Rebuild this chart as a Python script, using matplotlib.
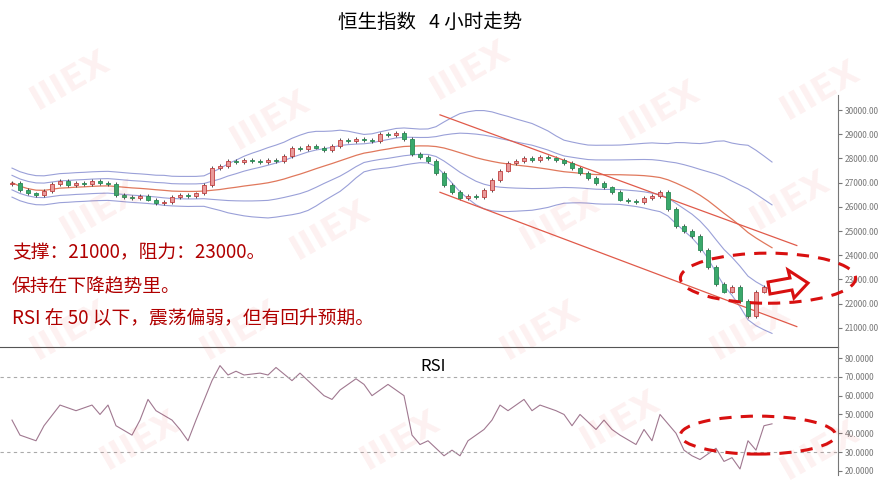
import numpy as np
import pandas as pd
import matplotlib
matplotlib.use("Agg")
import matplotlib.pyplot as plt
from matplotlib.patches import Ellipse, Polygon, Rectangle

plt.rcParams['font.family'] = ['Noto Sans CJK SC', 'DejaVu Sans']

# 4-hour closes
closes = [27000, 26700, 26550, 26500, 26650, 26950, 27050, 26900, 27000, 26950,
          27050, 27000, 26950, 26500, 26400, 26350, 26450, 26300, 26150, 26200,
          26400, 26500, 26450, 26550, 26900, 27600, 27700, 27900, 27850, 27950,
          27900, 27850, 27950, 27900, 28100, 28450, 28400, 28500, 28450, 28350,
          28500, 28750, 28700, 28800, 28750, 28700, 29000, 28950, 29050, 28800,
          28200, 28050, 27900, 27400, 26900, 26600, 26350, 26450, 26400, 26700,
          27100, 27500, 27800, 27900, 28000, 27950, 28050, 28000, 27950, 27800,
          27600, 27400, 27200, 27000, 26800, 26600, 26300, 26250, 26200, 26350,
          26450, 26600, 25900, 25200, 25000, 24800, 24200, 23500, 22800, 22500,
          22700, 22100, 21500, 22500, 22700, 22650]
opens = [26950] + closes[:-1]
rsi_idx = [0, 1, 3, 4, 6, 8, 10, 11, 12, 13, 15, 16, 17, 18, 20, 21, 22, 23, 25, 26,
           27, 28, 29, 31, 32, 33, 35, 36, 37, 39, 40, 41, 43, 44, 45, 46, 47, 49, 50,
           51, 52, 54, 55, 56, 57, 59, 60, 61, 62, 64, 65, 66, 68, 69, 70, 71, 73, 74,
           75, 76, 78, 79, 80, 81, 83, 84, 85, 86, 88, 89, 90, 91, 92, 93, 94, 95]
rsi = [47, 39, 36, 44, 55, 52, 55, 50, 55, 44, 39, 47, 58, 52, 47, 42, 36, 47, 68, 76,
       71, 73, 71, 72, 71, 75, 68, 72, 68, 60, 58, 63, 69, 66, 60, 63, 66, 60, 39, 34,
       36, 28, 31, 28, 36, 42, 47, 55, 52, 58, 52, 55, 52, 50, 44, 50, 42, 47, 42, 39,
       34, 42, 36, 50, 40, 31, 28, 26, 32, 25, 27, 21, 36, 31, 44, 45]
price_ticks = [21000, 22000, 23000, 24000, 25000, 26000, 27000, 28000, 29000, 30000]
rsi_ticks = [20, 30, 40, 50, 60, 70, 80]

fig = plt.figure(figsize=(8.91, 4.99), dpi=100)
W, H = 891, 499
ax = fig.add_axes([0, (H - 347) / H, 838 / W, (347 - 95) / H])
ax2 = fig.add_axes([0, 0, 838 / W, 152 / H])
xlim = (-1.5, 103.25)

# watermarks
for (wx, wy) in [(70, 80), (270, 120), (470, 70), (660, 110), (820, 90), (100, 210),
                 (330, 230), (560, 220), (790, 200), (70, 330), (240, 330), (540, 330),
                 (750, 330), (140, 440), (400, 440), (620, 420), (820, 450)]:
    fig.text(wx / W, 1 - wy / H, "IIIEX", fontsize=24, fontweight='bold', color='#e53935',
             alpha=0.07, rotation=30, ha='center', va='center', family='DejaVu Sans')

# Bollinger bands
s = pd.Series(closes, dtype=float)
mid = s.rolling(20, min_periods=1).mean()
sd = s.rolling(20, min_periods=1).std().fillna(0).clip(lower=300)
x = np.arange(len(closes))
ax.plot(x, mid, color='#e0785c', lw=0.9)
for k in (1, 2):
    ax.plot(x, mid + k * sd, color='#9aa0d8', lw=0.8)
    ax.plot(x, mid - k * sd, color='#9aa0d8', lw=0.8)

# candles
for i, (o, c) in enumerate(zip(opens, closes)):
    hi, lo = max(o, c) + 80, min(o, c) - 80
    up = c >= o
    ax.vlines(i, lo, hi, color='#333333', lw=0.6)
    ax.add_patch(Rectangle((i - 0.3, min(o, c)), 0.6, max(abs(c - o), 40),
                           facecolor='#e89a9a' if up else '#3aa86b',
                           edgecolor='#c04040' if up else '#2a8a55', lw=0.6, zorder=3))

# trend channel
ax.plot([53.5, 98.1], [29800, 24400], color='#e05a4a', lw=0.9)
ax.plot([53.5, 98.1], [26600, 21050], color='#e05a4a', lw=0.9)

ax.set_xlim(*xlim)
ax.set_ylim(20207, 30620)
ax.yaxis.tick_right()
ax.set_yticks(price_ticks)
ax.set_yticklabels([f"{t:.2f}" for t in price_ticks], fontsize=6, color='#777777')
ax.set_xticks([])
for sp in ['top', 'left']:
    ax.spines[sp].set_visible(False)
ax.spines['bottom'].set_color('#555555')
ax.spines['right'].set_color('#777777')
ax.tick_params(axis='y', length=3, color='#777777', pad=2)
ax.patch.set_alpha(0)

ax.add_patch(Ellipse((94.5, 23050), 21.9, 2070, fill=False, ec='#d81010', lw=2.2,
                     ls=(0, (4, 3)), clip_on=False, zorder=5))
arrow_px = [(768, 282), (790, 278), (788, 270), (808, 283), (794, 298), (792, 290), (770, 294)]
fig.add_artist(Polygon([(px / W, 1 - py / H) for px, py in arrow_px], closed=True,
                       transform=fig.transFigure, facecolor='white', edgecolor='#d81010', lw=2.2))

for txt, ty in [("支撑：21000，阻力：23000。", 253), ("保持在下降趋势里。", 287),
                ("RSI 在 50 以下，震荡偏弱，但有回升预期。", 318)]:
    fig.text(12 / W, 1 - ty / H, txt, fontsize=13.5, color='#b00000', va='center')

fig.text(430 / W, 1 - 22 / H, "恒生指数   4 小时走势", fontsize=14, ha='center', va='center')

# RSI panel
ax2.plot(rsi_idx, rsi, color='#a07890', lw=0.8)
for lvl in (30, 70):
    ax2.axhline(lvl, color='#aaaaaa', lw=0.8, ls=(0, (3, 3)))
ax2.set_xlim(*xlim)
ax2.set_ylim(5, 85.9)
ax2.yaxis.tick_right()
ax2.set_yticks(rsi_ticks)
ax2.set_yticklabels([f"{t:.4f}" for t in rsi_ticks], fontsize=6, color='#777777')
ax2.set_xticks([])
for sp in ['top', 'left', 'bottom']:
    ax2.spines[sp].set_visible(False)
ax2.spines['right'].set_color('#777777')
ax2.spines['right'].set_bounds(18, 85.9)
ax2.tick_params(axis='y', length=3, color='#777777', pad=2)
ax2.patch.set_alpha(0)
ax2.text(433 / 838, 0.87, "RSI", transform=ax2.transAxes, fontsize=12, ha='center', va='center')
ax2.add_patch(Ellipse((93.25, 39), 19.4, 20.2, fill=False, ec='#d81010', lw=2.2,
                      ls=(0, (4, 3)), clip_on=False, zorder=5))

fig.savefig("out.png", dpi=100)
